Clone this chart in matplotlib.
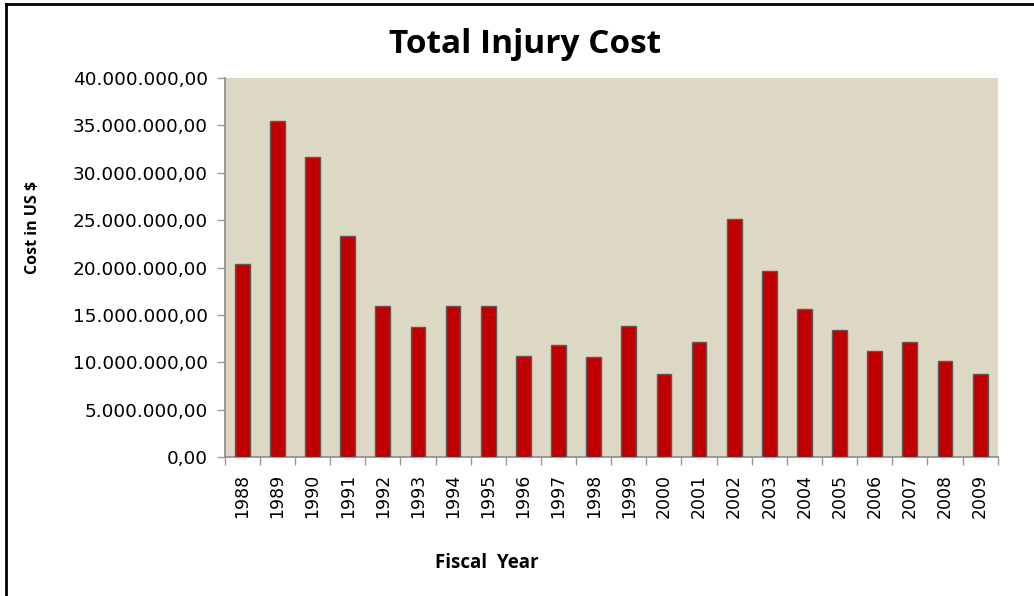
import matplotlib
matplotlib.use("Agg")
import matplotlib.pyplot as plt
from matplotlib.ticker import FuncFormatter, FixedLocator
from matplotlib.lines import Line2D

years = ["1988", "1989", "1990", "1991", "1992", "1993", "1994", "1995", "1996", "1997", "1998",
         "1999", "2000", "2001", "2002", "2003", "2004", "2005", "2006", "2007", "2008", "2009"]
costs = [20.34e6, 35.43e6, 31.63e6, 23.29e6, 15.97e6, 13.75e6, 15.90e6, 15.90e6, 10.62e6, 11.79e6, 10.52e6,
         13.79e6, 8.73e6, 12.10e6, 25.08e6, 19.63e6, 15.62e6, 13.37e6, 11.15e6, 12.10e6, 10.10e6, 8.76e6]

title = "Total Injury Cost"
ylabel = "Cost in US $"
xlabel = "Fiscal  Year"

fig = plt.figure(figsize=(10.34, 5.96), dpi=100)
ax = fig.add_axes([0.2173, 0.2332, 0.7476, 0.6359])
ax.set_facecolor("#DDD8C3")

x = list(range(len(years)))
ax.bar(x, costs, width=0.42, color="#C00000", edgecolor="#5A5A5A", linewidth=1.0, zorder=3)

ax.set_xlim(-0.5, len(years) - 0.5)
ax.set_ylim(0, 40e6)
ax.set_yticks([i * 5e6 for i in range(9)])

def fmt(v, pos):
    s = f"{v:,.2f}"
    return s.replace(",", "X").replace(".", ",").replace("X", ".")

ax.yaxis.set_major_formatter(FuncFormatter(fmt))
ax.set_xticks(x)
ax.set_xticklabels(years, rotation=90, fontsize=12.5, fontfamily="DejaVu Sans")
ax.tick_params(axis="x", which="major", length=0, pad=12)
ax.xaxis.set_minor_locator(FixedLocator([i - 0.5 for i in range(len(years) + 1)]))
ax.tick_params(axis="x", which="minor", length=6, color="#9A9A9A", width=1)
ax.tick_params(axis="y", which="major", length=6, color="#9A9A9A", width=1, labelsize=13.3, pad=6)
for lab in ax.get_yticklabels():
    lab.set_fontfamily("DejaVu Sans")

for side in ["top", "right"]:
    ax.spines[side].set_visible(False)
for side in ["left", "bottom"]:
    ax.spines[side].set_color("#8C8C8C")
    ax.spines[side].set_linewidth(1.2)

fig.text(0.508, 0.925, title, ha="center", va="center", fontsize=24, fontweight="bold", fontfamily="Open Sans")
fig.text(0.032, 0.619, ylabel, ha="center", va="center", rotation=90, fontsize=11.5, fontweight="bold", fontfamily="Open Sans")
fig.text(0.471, 0.055, xlabel, ha="center", va="center", fontsize=13.5, fontweight="bold", fontfamily="Open Sans")

# outer border (top and left)
fig.add_artist(Line2D([0.0055, 1.0], [0.9935, 0.9935], transform=fig.transFigure, color="black", linewidth=2))
fig.add_artist(Line2D([0.0055, 0.0055], [0.0, 0.9935], transform=fig.transFigure, color="black", linewidth=2))

fig.savefig("out.png", dpi=100, facecolor="white")
